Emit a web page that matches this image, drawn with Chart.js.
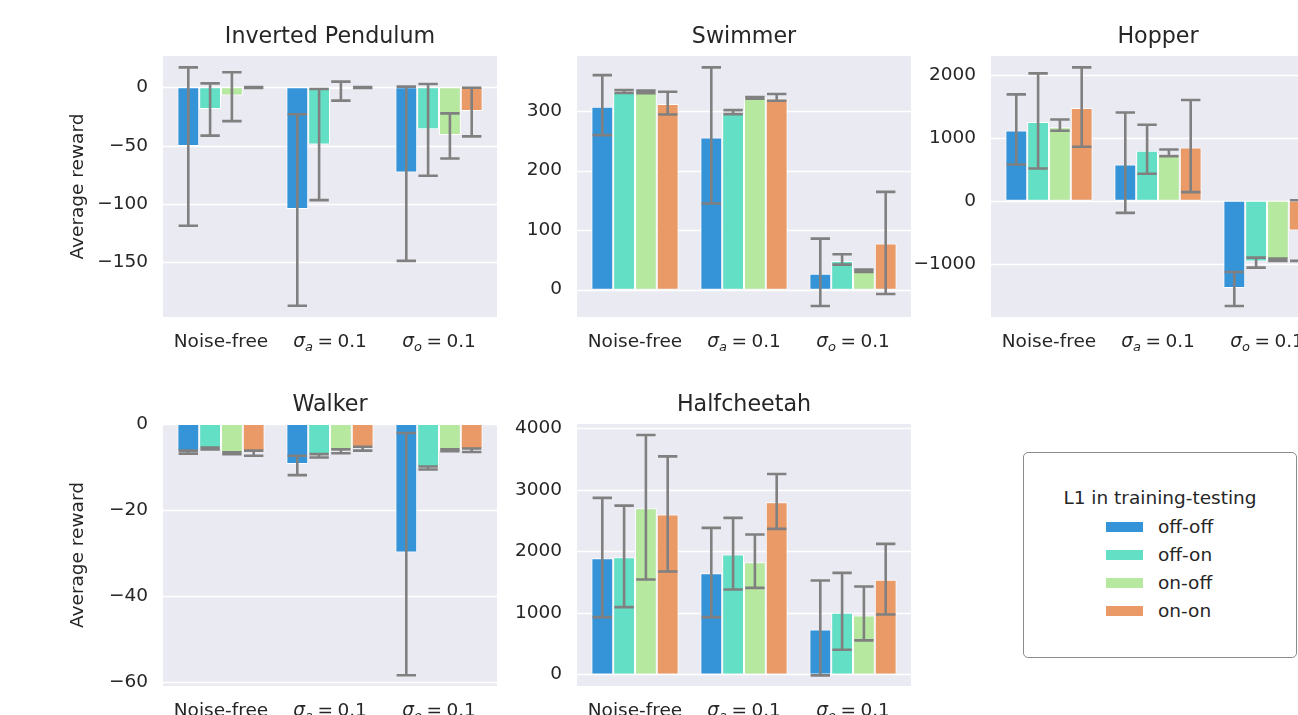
<!DOCTYPE html>
<html>
<head>
<meta charset="utf-8">
<script src="https://cdn.jsdelivr.net/npm/chart.js@4.4.1/dist/chart.umd.min.js"></script>
<style>
  html, body { margin: 0; padding: 0; background: #fff; overflow: hidden; width: 1298px; height: 715px; }
  canvas { position: absolute; }
  #legend { position: absolute; left: 1023px; top: 452px; width: 272px; height: 204px;
    border: 1px solid #8c8c8c; border-radius: 5px; font-family: 'DejaVu Sans'; font-size: 18.5px; color: #262626; }
  #legend .title { position: absolute; left: 0; right: 0; top: 33px; text-align: center; line-height: 24px; }
  #legend .row { position: absolute; left: 82px; height: 28px; line-height: 28px; }
  #legend .patch { position: absolute; left: 0; top: 9px; width: 37px; height: 10px; }
  #legend .label { position: absolute; left: 52px; white-space: nowrap; }
</style>
</head>
<body>
<canvas id="c0"></canvas>
<canvas id="c1"></canvas>
<canvas id="c2"></canvas>
<canvas id="c3"></canvas>
<canvas id="c4"></canvas>
<div id="legend"></div>
<script>
// ---- data (rows = series, columns = groups) ----
const groups = ['Noise-free', 'σ_a = 0.1', 'σ_o = 0.1'];
const seriesNames = ['off-off', 'off-on', 'on-off', 'on-on'];
const seriesColors = ['#3593d8', '#62dfc4', '#b7e89f', '#ea9a66'];
const legendTitle = 'L1 in training-testing';

const pendulumMean = [[-50.3, -104.3, -72.9], [-18.6, -48.9, -36.0], [-7.1, -1.4, -40.9], [-0.2, -0.2, -20.3]];
const pendulumLow  = [[-118.6, -187.1, -148.6], [-41.4, -96.6, -75.7], [-28.9, -11.4, -60.9], [-0.6, -0.6, -42.0]];
const pendulumHigh = [[17.1, -23.1, 0.6], [3.4, -1.4, 2.9], [12.9, 4.9, -22.3], [0.3, 0.3, -0.3]];
const pendulumTicks = [-150, -100, -50, 0];

const swimmerMean = [[307.3, 255.7, 26.9], [332.0, 296.0, 48.2], [331.5, 322.0, 31.0], [311.8, 320.8, 77.4]];
const swimmerLow  = [[259.7, 144.7, -27.5], [330.5, 295.0, 42.0], [330.0, 320.8, 29.7], [294.4, 317.4, -7.3]];
const swimmerHigh = [[360.6, 373.5, 85.8], [335.4, 301.7, 59.4], [334.5, 323.6, 33.6], [332.6, 328.7, 164.3]];
const swimmerTicks = [0, 100, 200, 300];

const hopperMean = [[1116, 577, -1381], [1249, 794, -963], [1169, 740, -940], [1471, 847, -471]];
const hopperLow  = [[577, -190, -1667], [513, 429, -1058], [1111, 709, -952], [857, 138, -952]];
const hopperHigh = [[1688, 1402, -1127], [2021, 1206, -899], [1291, 815, -915], [2116, 1598, 10]];
const hopperTicks = [-1000, 0, 1000, 2000];

const walkerMean = [[-6.4, -9.3, -29.9], [-5.7, -7.1, -10.1], [-6.8, -6.2, -6.1], [-6.4, -5.4, -5.8]];
const walkerLow  = [[-6.9, -11.9, -58.5], [-5.9, -7.8, -10.6], [-7.0, -6.8, -6.3], [-7.4, -6.2, -6.5]];
const walkerHigh = [[-6.2, -7.4, -2.1], [-5.5, -7.0, -9.9], [-6.6, -5.9, -5.9], [-6.2, -5.3, -5.7]];
const walkerTicks = [-60, -40, -20, 0];

const cheetahMean = [[1889, 1645, 731], [1905, 1949, 1001], [2701, 1824, 958], [2598, 2798, 1537]];
const cheetahLow  = [[931, 931, -16], [1093, 1380, 401], [1543, 1407, 552], [1673, 2365, 974]];
const cheetahHigh = [[2869, 2382, 1526], [2744, 2544, 1651], [3892, 2273, 1429], [3545, 3258, 2122]];
const cheetahTicks = [0, 1000, 2000, 3000, 4000];

// ---- look ----
const FONT = 'DejaVu Sans';
const TEXT = '#262626';
const FACE = '#eaeaf2';
const ERR = '#808080';
const PAD = 3.5;       // gap between axes edge and first/last category band
const W = 334;

const panels = [
  { id: 'c0', title: 'Inverted Pendulum', mean: pendulumMean, low: pendulumLow, high: pendulumHigh, ticks: pendulumTicks, min: -196.7, max: 26.8, yTitle: true,  L: 163, T: 56, H: 261 },
  { id: 'c1', title: 'Swimmer',           mean: swimmerMean,  low: swimmerLow,  high: swimmerHigh,  ticks: swimmerTicks,  min: -46,    max: 392.6, yTitle: false, L: 577, T: 56, H: 261 },
  { id: 'c2', title: 'Hopper',            mean: hopperMean,   low: hopperLow,   high: hopperHigh,   ticks: hopperTicks,   min: -1841,  max: 2296,  yTitle: false, L: 991, T: 56, H: 261 },
  { id: 'c3', title: 'Walker',            mean: walkerMean,   low: walkerLow,   high: walkerHigh,   ticks: walkerTicks,   min: -61,    max: 0,     yTitle: true,  L: 163, T: 423.5, H: 262 },
  { id: 'c4', title: 'Halfcheetah',       mean: cheetahMean,  low: cheetahLow,  high: cheetahHigh,  ticks: cheetahTicks,  min: -189,   max: 4070,  yTitle: false, L: 577, T: 423.5, H: 262 },
];

function fmtTick(v) { return v < 0 ? '\u2212' + Math.abs(v) : String(v); }

// mathtext-like group label: "σ_a = 0.1" -> italic σ, subscript a, then "= 0.1"
function drawGroupLabel(ctx, text, cx, y) {
  ctx.fillStyle = TEXT;
  ctx.textBaseline = 'alphabetic';
  const m = text.match(/^(.)_(.)\s*(.*)$/);
  if (!m) {
    ctx.font = `18.5px '${FONT}'`;
    ctx.textAlign = 'center';
    ctx.fillText(text, cx, y);
    return;
  }
  const pieces = [
    { t: m[1], font: `italic 18.5px '${FONT}'`, dy: 0, gap: 0 },
    { t: m[2], font: `italic 13px '${FONT}'`, dy: 4, gap: 4.5 },
  ];
  m[3].split(/\s+/).forEach(tok => pieces.push({ t: tok, font: `18.5px '${FONT}'`, dy: 0, gap: 4.5 }));
  let total = 0;
  pieces.forEach((p, i) => { ctx.font = p.font; p.w = ctx.measureText(p.t).width; total += p.w + (i < pieces.length - 1 ? p.gap : 0); });
  let x = cx - total / 2;
  ctx.textAlign = 'left';
  pieces.forEach(p => { ctx.font = p.font; ctx.fillText(p.t, x, y + p.dy); x += p.w + p.gap; });
}

const panelPlugin = {
  id: 'panel',
  beforeDraw(chart) {
    const a = chart.chartArea, ctx = chart.ctx;
    ctx.save();
    ctx.fillStyle = FACE;
    ctx.fillRect(a.left - PAD, a.top, a.right - a.left + 2 * PAD, a.bottom - a.top);
    ctx.restore();
  },
  beforeDatasetsDraw(chart) {
    const a = chart.chartArea, ctx = chart.ctx, y = chart.scales.y;
    ctx.save();
    ctx.strokeStyle = '#ffffff';
    ctx.lineWidth = 1.4;
    y.ticks.forEach(t => {
      const py = Math.round(y.getPixelForValue(t.value)) + 0.5;
      ctx.beginPath();
      ctx.moveTo(a.left - PAD, py);
      ctx.lineTo(a.right + PAD, py);
      ctx.stroke();
    });
    ctx.restore();
  },
  afterDatasetsDraw(chart, args, opts) {
    const a = chart.chartArea, ctx = chart.ctx, y = chart.scales.y;
    ctx.save();
    ctx.beginPath();
    ctx.rect(a.left - PAD, a.top, a.right - a.left + 2 * PAD, a.bottom - a.top);
    ctx.clip();
    ctx.strokeStyle = ERR;
    ctx.lineWidth = 2.6;
    ctx.lineCap = 'butt';
    chart.data.datasets.forEach((ds, i) => {
      chart.getDatasetMeta(i).data.forEach((bar, j) => {
        const y1 = y.getPixelForValue(opts.low[i][j]);
        const y2 = y.getPixelForValue(opts.high[i][j]);
        const cap = 9.7;
        ctx.beginPath();
        ctx.moveTo(bar.x, y1); ctx.lineTo(bar.x, y2);
        ctx.moveTo(bar.x - cap, y1); ctx.lineTo(bar.x + cap, y1);
        ctx.moveTo(bar.x - cap, y2); ctx.lineTo(bar.x + cap, y2);
        ctx.stroke();
      });
    });
    ctx.restore();
  },
  afterDraw(chart) {
    const ctx = chart.ctx, x = chart.scales.x, a = chart.chartArea;
    ctx.save();
    chart.data.labels.forEach((lab, i) => drawGroupLabel(ctx, lab, x.getPixelForValue(i), a.bottom + 30));
    ctx.restore();
  }
};

panels.forEach(p => {
  const cv = document.getElementById(p.id);
  cv.width = W + 110;
  cv.height = p.H + 80;
  cv.style.left = (p.L - 100) + 'px';
  cv.style.top = (p.T - 40) + 'px';
  new Chart(cv, {
    type: 'bar',
    data: {
      labels: groups,
      datasets: seriesNames.map((name, i) => ({
        label: name,
        data: p.mean[i],
        backgroundColor: seriesColors[i],
        borderColor: '#ffffff',
        borderWidth: 1,
        borderSkipped: false,
        categoryPercentage: 0.8,
        barPercentage: 1.0,
      })),
    },
    options: {
      responsive: false,
      animation: false,
      layout: { padding: { left: 0, top: 0, right: 10 + PAD, bottom: 0 } },
      plugins: {
        legend: { display: false },
        tooltip: { enabled: false },
        title: {
          display: true, text: p.title, fullSize: false, color: TEXT,
          font: { family: FONT, size: 22.2, weight: 'normal' },
          padding: { top: 7.7, bottom: 5.7 },
        },
        panel: { low: p.low, high: p.high },
      },
      scales: {
        x: {
          offset: true,
          grid: { display: false },
          border: { display: false },
          ticks: { display: false },
          afterFit(s) { s.height = 40; },
        },
        y: {
          min: p.min, max: p.max,
          grid: { display: false, drawTicks: false },
          border: { display: false },
          ticks: { color: TEXT, font: { family: FONT, size: 18.5 }, padding: 15 + PAD, callback: fmtTick },
          afterBuildTicks(s) { s.ticks = p.ticks.map(v => ({ value: v })); },
          afterFit(s) { s.width = 100 + PAD; },
          title: {
            display: p.yTitle, text: 'Average reward', color: TEXT,
            font: { family: FONT, size: 18.5 },
            padding: { top: 4, bottom: 0 },
          },
        },
      },
    },
    plugins: [panelPlugin],
  });
});

// legend built from the series arrays
const legend = document.getElementById('legend');
legend.innerHTML = `<div class="title">${legendTitle}</div>` + seriesNames.map((name, i) =>
  `<div class="row" style="top:${60 + i * 28}px"><span class="patch" style="background:${seriesColors[i]}"></span><span class="label">${name}</span></div>`
).join('');
</script>
</body>
</html>
